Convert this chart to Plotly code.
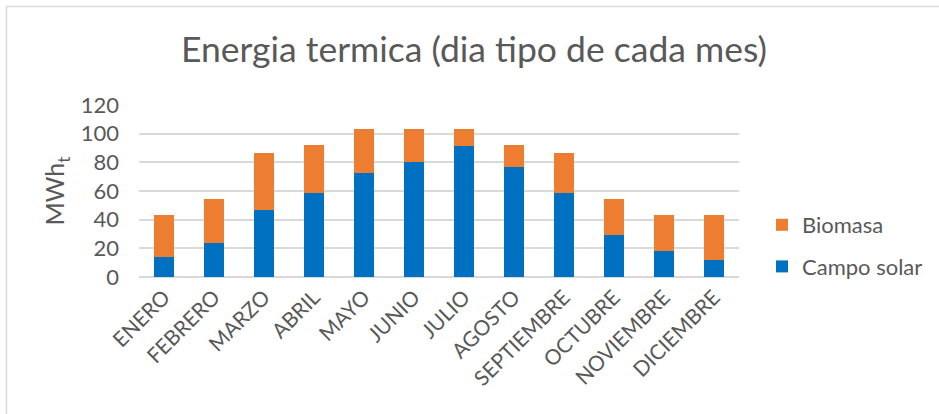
import plotly.graph_objects as go

months = ["ENERO", "FEBRERO", "MARZO", "ABRIL", "MAYO", "JUNIO", "JULIO",
          "AGOSTO", "SEPTIEMBRE", "OCTUBRE", "NOVIEMBRE", "DICIEMBRE"]
campo_solar = [14.0, 23.8, 46.6, 58.7, 72.3, 80.4, 91.6, 76.7, 58.7, 29.1, 18.0, 11.7]
biomasa = [29.1, 30.3, 40.1, 33.4, 30.8, 22.7, 11.5, 15.4, 28.0, 25.0, 25.1, 31.4]
y_ticks = [0, 20, 40, 60, 80, 100, 120]

W, H = 939, 414
ML, MR, MT, MB = 139, 200, 105, 137
PW, PH = W - ML - MR, H - MT - MB

def px_x(p):
    return (p - ML) / PW

def px_y(p):
    return (H - MB - p) / PH

FONT = "Lato, Calibri, 'Noto Sans', sans-serif"
GREY = "#595959"

fig = go.Figure()
fig.add_trace(go.Bar(x=months, y=campo_solar, name="Campo solar",
                     marker=dict(color="#0070C0", line=dict(width=0)),
                     legendgroup="a", legendrank=2))
fig.add_trace(go.Bar(x=months, y=biomasa, name="Biomasa",
                     marker=dict(color="#ED7D31", line=dict(width=0)),
                     legendgroup="b", legendrank=1))

fig.update_layout(
    width=W, height=H,
    barmode="stack", bargap=0.6,
    margin=dict(l=ML, r=MR, t=MT, b=MB, autoexpand=False),
    paper_bgcolor="white", plot_bgcolor="white",
    font=dict(family=FONT, color=GREY, size=22),
    title=dict(text="Energia termica (dia tipo de cada mes)",
               x=474 / W, xref="container", xanchor="center",
               y=1 - 50 / H, yanchor="middle",
               font=dict(size=35.5, color=GREY, family=FONT)),
    xaxis=dict(tickangle=-45, showgrid=False, showline=False, ticks="",
               ticklabelstandoff=3,
               tickfont=dict(size=21, color=GREY)),
    yaxis=dict(range=[0, 120], tickvals=y_ticks, showgrid=True,
               gridcolor="#d9d9d9", gridwidth=1.5, zeroline=True,
               zerolinecolor="#d9d9d9", zerolinewidth=1.5,
               ticks="", ticklabelstandoff=19,
               tickfont=dict(size=22, color=GREY),
               title=dict(text="MWh<sub>t</sub>", standoff=8,
                          font=dict(size=25, color=GREY))),
    legend=dict(x=px_x(762), xanchor="left", y=px_y(204), yanchor="top",
                traceorder="grouped", tracegroupgap=10,
                font=dict(size=22, color=GREY), itemwidth=30,
                bgcolor="rgba(0,0,0,0)"),
    shapes=[
        dict(type="line", xref="paper", yref="paper",
             x0=px_x(6.5), x1=px_x(945), y0=px_y(6.5), y1=px_y(6.5),
             line=dict(color="#d9d9d9", width=1.5)),
        dict(type="line", xref="paper", yref="paper",
             x0=px_x(6.5), x1=px_x(6.5), y0=px_y(6.5), y1=px_y(420),
             line=dict(color="#d9d9d9", width=1.5)),
    ],
)

fig.write_html("out.html", config={"displayModeBar": False},
               post_script="document.body.style.margin='0';")
